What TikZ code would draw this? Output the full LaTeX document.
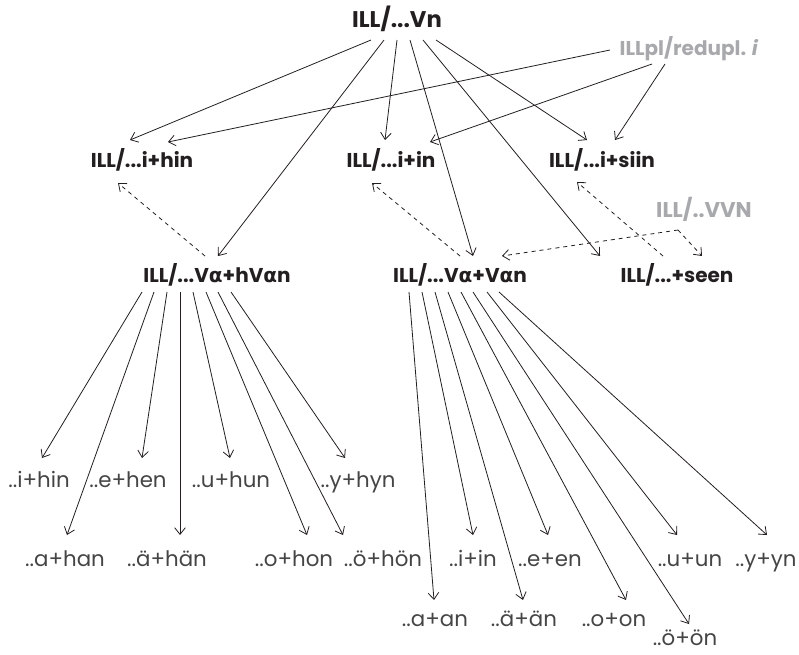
\documentclass[tikz,border=0pt]{standalone}
\usepackage{fontspec}
\setmainfont{Poppins}
\newfontfamily\grk{DejaVu Sans}
\usetikzlibrary{arrows.meta,calc}
\definecolor{ink}{HTML}{231F20}
\definecolor{soft}{HTML}{A7A9AC}
\definecolor{thin}{HTML}{454545}
\newcommand{\alf}{{\grk\bfseries α}}
\begin{document}
\begin{tikzpicture}[x=0.75pt,y=-0.75pt,
  hd/.style={font=\bfseries\fontsize{15}{17}\selectfont, text=ink, inner sep=0, anchor=base},
  gr/.style={hd, text=soft},
  lf/.style={font=\fontsize{16}{18}\selectfont, text=thin, inner sep=0, anchor=base},
  arr/.style={draw=ink, line width=0.6pt, -{Straight Barb[length=5pt,width=8pt]}},
  darr/.style={arr, dash pattern=on 3pt off 3pt},
]
\useasboundingbox (0,0) rectangle (799,654);
\node[hd, font=\bfseries\fontsize{17}{19}\selectfont] (T) at (397,27) {ILL/...Vn};
\node[gr] (P) at (689,55) {ILLpl/redupl. \textit{i}};
\node[hd] (H) at (142,167) {ILL/...i+hin};
\node[hd] (I) at (391,167) {ILL/...i+in};
\node[hd] (S) at (602,167) {ILL/...i+siin};
\node[gr, font=\bfseries\fontsize{16}{18}\selectfont] (V) at (704,217) {ILL/..VVN};
\node[hd] (A) at (217,282) {ILL/...V\alf+hV\alf n};
\node[hd] (B) at (460,282) {ILL/...V\alf+V\alf n};
\node[hd] (C) at (677,282) {ILL/...+seen};
\node[lf] (l1) at (39,487) {..i+hin};
\node[lf] (l2) at (128,487) {..e+hen};
\node[lf] (l3) at (231,487) {..u+hun};
\node[lf] (l4) at (358,487) {..y+hyn};
\node[lf] (l5) at (65,566) {..a+han};
\node[lf] (l6) at (167,566) {..ä+hän};
\node[lf] (l7) at (294,566) {..o+hon};
\node[lf] (l8) at (383,566) {..ö+hön};
\node[lf] (r1) at (473,566) {..i+in};
\node[lf] (r2) at (550,566) {..e+en};
\node[lf] (r3) at (690,566) {..u+un};
\node[lf] (r4) at (766,566) {..y+yn};
\node[lf] (r5) at (435,626) {..a+an};
\node[lf] (r6) at (524,626) {..ä+än};
\node[lf] (r7) at (614,626) {..o+on};
\node[lf] (r8) at (685,645) {..ö+ön};
\draw[arr] ($(T.base)+(-26,13)$) -- ($(H.base)+(-12,-27)$);
\draw[arr] ($(T.base)+(-13,13)$) -- ($(A.base)+(1,-26)$);
\draw[arr] ($(T.base)+(0,13)$) -- ($(I.base)+(-6,-27)$);
\draw[arr] ($(T.base)+(13,13)$) -- ($(B.base)+(13,-26)$);
\draw[arr] ($(T.base)+(26,13)$) -- ($(C.base)+(-77,-26)$);
\draw[arr] ($(T.base)+(39,13)$) -- ($(S.base)+(-15,-27)$);
\draw[arr] ($(P.base)+(-79,-5)$) -- ($(H.base)+(26,-25)$);
\draw[arr] ($(P.base)+(-37,9)$) -- ($(I.base)+(39,-25)$);
\draw[arr] ($(P.base)+(-24,9)$) -- ($(S.base)+(13,-27)$);
\draw[darr] ($(A.base)+(-12,-26)$) -- ($(H.base)+(-24,16)$);
\draw[darr] ($(B.base)+(0,-26)$) -- ($(I.base)+(-19,16)$);
\draw[darr] ($(C.base)+(-14,-26)$) -- ($(S.base)+(-25,15)$);
\coordinate (K) at ($(V.base)+(-26,13)$);
\draw[darr] (K) -- ($(B.base)+(42,-26)$);
\draw[darr] (K) -- ($(C.base)+(25,-26)$);
\foreach \dx/\n/\ex/\ey in {-75/l1/3/-29, -63/l5/2/-31, -50/l2/14/-29, -37/l6/13/-31, -24/l3/-1/-29, -11/l7/13/-31, 1/l8/-40/-31, 14/l4/-13/-29}
  \draw[arr] ($(A.base)+(\dx,10)$) -- ($(\n.base)+(\ex,\ey)$);
\foreach \dx/\n/\ex/\ey in {-51/r5/-1/-26, -38/r1/0/-31, -25/r6/-1/-26, -12/r2/-2/-31, 1/r7/12/-26, 13/r8/4/-21, 27/r3/-13/-31, 39/r4/1/-31}
  \draw[arr] ($(B.base)+(\dx,10)$) -- ($(\n.base)+(\ex,\ey)$);
\end{tikzpicture}
\end{document}
